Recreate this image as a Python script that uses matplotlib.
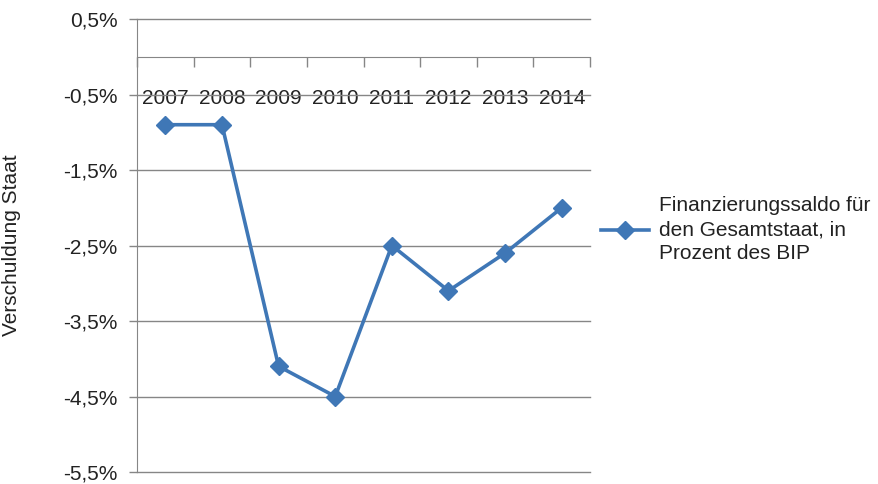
import matplotlib.pyplot as plt
from matplotlib.ticker import FixedLocator

plt.rcParams['font.family'] = ['Liberation Sans', 'DejaVu Sans']

# Data
years = ["2007", "2008", "2009", "2010", "2011", "2012", "2013", "2014"]
saldo = [-0.9, -0.9, -4.1, -4.5, -2.5, -3.1, -2.6, -2.0]
y_ticks = [0.5, -0.5, -1.5, -2.5, -3.5, -4.5, -5.5]
y_labels = ["0,5%", "-0,5%", "-1,5%", "-2,5%", "-3,5%", "-4,5%", "-5,5%"]

grid_col = "#868686"
line_col = "#3F77B6"
txt_col = "#222222"

fig = plt.figure(figsize=(8.79, 4.84), dpi=100)
ax = fig.add_axes([0.1559, 0.0248, 0.5154, 0.9359])

x = range(len(years))
ax.plot(x, saldo, color=line_col, linewidth=2.6, marker="D", markersize=9.5,
        label="Finanzierungssaldo für\nden Gesamtstaat, in\nProzent des BIP", zorder=3)

ax.set_xlim(-0.5, len(years) - 0.5)
ax.set_ylim(-5.5, 0.5)

# y axis
ax.set_yticks(y_ticks)
ax.set_yticklabels(y_labels, fontsize=15, color=txt_col)
ax.tick_params(axis="y", length=6, color=grid_col, width=1, pad=8)
ax.yaxis.grid(True, color=grid_col, linewidth=1)
for gl in ax.yaxis.get_gridlines():
    gl.set_clip_on(False)
ax.set_axisbelow(True)

# x axis at zero
ax.spines["bottom"].set_position(("data", 0))
ax.spines["bottom"].set_color(grid_col)
ax.spines["left"].set_color(grid_col)
ax.spines["top"].set_visible(False)
ax.spines["right"].set_visible(False)
ax.set_xticks(list(x))
ax.set_xticklabels(years, fontsize=15, color=txt_col)
ax.tick_params(axis="x", which="major", length=0, pad=23)
ax.xaxis.set_minor_locator(FixedLocator([i - 0.5 for i in range(len(years) + 1)]))
ax.tick_params(axis="x", which="minor", length=7, color=grid_col, width=1, direction="out")

ax.set_ylabel("Verschuldung Staat", fontsize=15, color=txt_col, labelpad=30)

ax.legend(loc="upper left", bbox_to_anchor=(0.672, 0.617), bbox_transform=fig.transFigure,
          frameon=False, fontsize=15, handlelength=2.3, handletextpad=0.5,
          labelspacing=0.2, borderpad=0)
for t in ax.get_legend().get_texts():
    t.set_linespacing(1.35)
    t.set_color(txt_col)

fig.savefig("out.png", dpi=100)
